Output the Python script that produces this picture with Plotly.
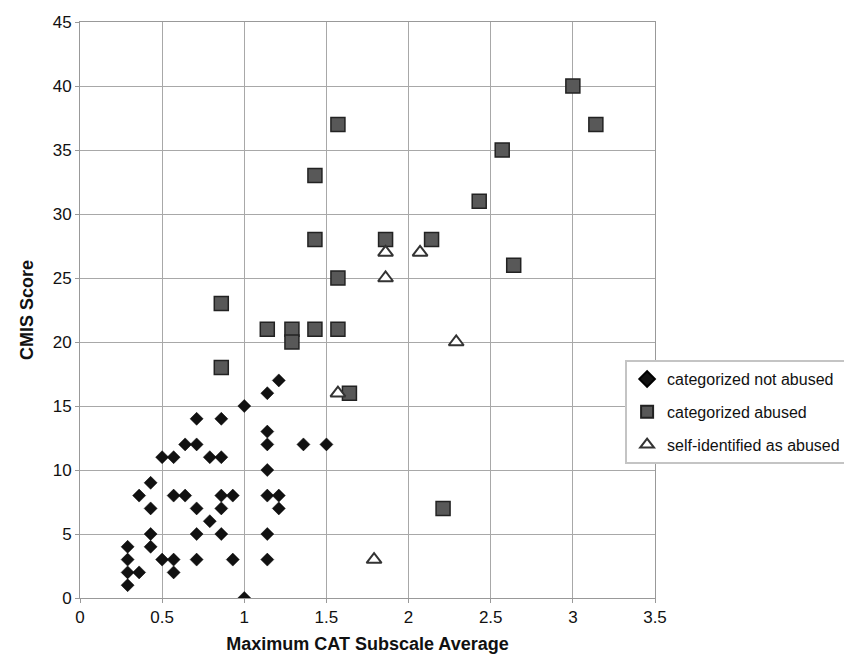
import plotly.graph_objects as go

# categorized not abused (diamonds)
na_x = [0.29, 0.29, 0.29, 0.29, 0.36,
        0.36, 0.43, 0.43, 0.43, 0.43,
        0.5, 0.57, 0.5, 0.57, 0.57,
        0.57, 0.64,
        0.64, 0.71, 0.71, 0.71, 0.71, 0.71,
        0.79, 0.86, 0.86, 0.79, 0.86, 0.93, 0.86, 0.86, 0.93,
        1.0, 1.0,
        1.14, 1.21, 1.14, 1.14, 1.14, 1.14, 1.21, 1.21, 1.14, 1.14,
        1.36, 1.5]
na_y = [4, 3, 2, 1, 2,
        8, 9, 7, 5, 4,
        11, 11, 3, 3, 2,
        8, 8,
        12, 12, 14, 7, 5, 3,
        11, 11, 14, 6, 8, 8, 7, 5, 3,
        15, 0,
        16, 17, 13, 12, 10, 8, 8, 7, 5, 3,
        12, 12]

# categorized abused (squares)
ab_x = [1.57, 1.43, 1.43, 1.86, 2.14, 1.57, 0.86, 1.14, 1.29, 1.43,
        1.57, 1.29, 0.86, 1.64, 3.0, 3.14, 2.57, 2.43, 2.64, 2.21]
ab_y = [37, 33, 28, 28, 28, 25, 23, 21, 21, 21,
        21, 20, 18, 16, 40, 37, 35, 31, 26, 7]

# self-identified as abused (triangles)
si_x = [1.86, 2.07, 1.86, 2.29, 1.57, 1.79]
si_y = [27, 27, 25, 20, 16, 3]

x_ticks = [0, 0.5, 1, 1.5, 2, 2.5, 3, 3.5]
x_tick_text = ["0", "0.5", "1", "1.5", "2", "2.5", "3", "3.5"]
y_ticks = [0, 5, 10, 15, 20, 25, 30, 35, 40, 45]

names = ["categorized not abused", "categorized abused", "self-identified as abused"]

fig = go.Figure()
fig.add_trace(go.Scatter(
    x=na_x, y=na_y, mode="markers", name=names[0], legendgroup="a",
    marker=dict(symbol="diamond", size=10, color="#111111",
                line=dict(color="#000000", width=0.5))))
fig.add_trace(go.Scatter(
    x=ab_x, y=ab_y, mode="markers", name=names[1], legendgroup="b",
    marker=dict(symbol="square", size=14, color="#585858",
                line=dict(color="#222222", width=1.5))))
fig.add_trace(go.Scatter(
    x=si_x, y=si_y, mode="markers", name=names[2], legendgroup="c",
    marker=dict(symbol="triangle-up", size=13, color="#ffffff",
                line=dict(color="#333333", width=2))))

reg = "Liberation Sans, Arial, sans-serif"

fig.update_layout(
    width=852, height=661,
    margin=dict(l=72, r=205, t=14, b=71),
    paper_bgcolor="white", plot_bgcolor="white",
    showlegend=True,
    legend=dict(x=0.948, y=0.413, xanchor="left", yanchor="top",
                bgcolor="white", bordercolor="#c4c4c4", borderwidth=2,
                font=dict(family=reg, size=16, color="#111111"),
                tracegroupgap=9, itemsizing="constant"),
    xaxis=dict(range=[0, 3.5], tickvals=x_ticks, ticktext=x_tick_text,
               automargin=False,
               showgrid=True, gridcolor="#a8a8a8", gridwidth=1,
               showline=True, linecolor="#999999", linewidth=1, mirror=True,
               ticks="outside", ticklen=4, tickcolor="#999999",
               zeroline=False,
               tickfont=dict(family=reg, size=17, color="#111111"),
               title=dict(text="Maximum CAT Subscale Average", standoff=10,
                          font=dict(family=reg, size=18, color="#111111", weight="bold"))),
    yaxis=dict(range=[0, 45], tickvals=y_ticks,
               automargin=False,
               showgrid=True, gridcolor="#a8a8a8", gridwidth=1,
               showline=True, linecolor="#999999", linewidth=1, mirror=True,
               ticks="outside", ticklen=4, tickcolor="#999999",
               zeroline=False,
               tickfont=dict(family=reg, size=17, color="#111111"),
               title=dict(text="CMIS Score", standoff=14,
                          font=dict(family=reg, size=18, color="#111111", weight="bold"))),
)

fig.write_html("out.html")
